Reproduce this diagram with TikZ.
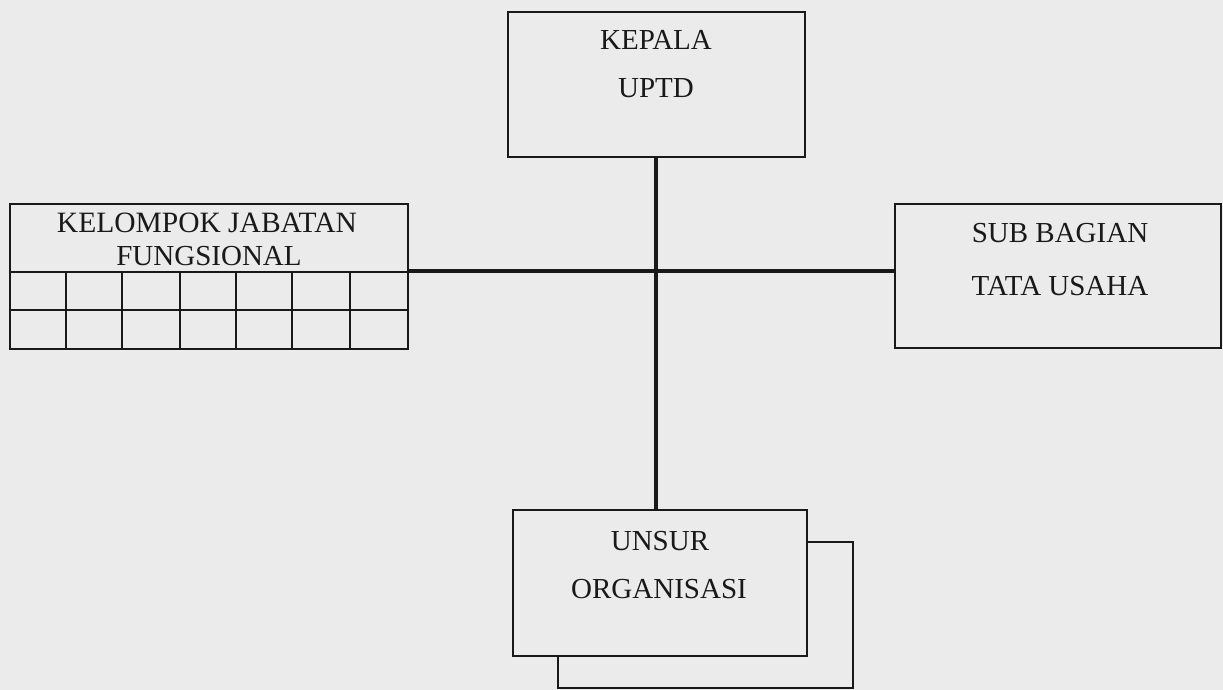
\documentclass[tikz,border=0pt]{standalone}
\usepackage{fontspec}
\setmainfont{Liberation Serif}
\definecolor{bg}{RGB}{235,235,235}
\definecolor{ink}{RGB}{25,25,25}
\begin{document}
\begin{tikzpicture}[x=1pt,y=-1pt,
  box/.style={draw=ink,line width=2.2pt,inner sep=0pt,fill=bg},
  lbl/.style={font=\fontsize{29}{35}\selectfont,text=ink,inner sep=0pt,anchor=base},
  conn/.style={draw=ink,line width=3.2pt},
  gridline/.style={draw=ink,line width=1.4pt}]
\fill[bg] (0,0) rectangle (1223,690);
\useasboundingbox (0,0) rectangle (1223,690);

% boxes
\node[box,minimum width=297pt,minimum height=145pt] (kepala) at (656.5,84.5) {};
\node[box,minimum width=398pt,minimum height=145pt] (kel) at (209,276.5) {};
\node[box,minimum width=326pt,minimum height=144pt] (sub) at (1058,276) {};
\node[box,minimum width=295pt,minimum height=146pt] (unsurback) at (705.5,615) {};
\node[box,minimum width=294pt,minimum height=146pt] (unsur) at (660,583) {};

% grid of the functional group box
\draw[gridline,line width=2pt] (10,272) -- (408,272);
\draw[gridline,line width=1.1pt] (10,310) -- (408,310);
\foreach \gx in {66,122,180,236,292,350}{
  \draw[gridline] (\gx,272) -- (\gx,349);
}

% labels
\node[lbl] (t1) at (656,50) {KEPALA};
\node[lbl] (t2) at (656,98) {UPTD};
\node[lbl,font=\fontsize{29.5}{34}\selectfont] (t3) at (207,232) {KELOMPOK JABATAN};
\node[lbl,font=\fontsize{29}{34}\selectfont] (t4) at (209,265) {FUNGSIONAL};
\node[lbl] (t5) at (1060,242) {SUB BAGIAN};
\node[lbl] (t6) at (1060,295) {TATA USAHA};
\node[lbl] (t7) at (660,550) {UNSUR};
\node[lbl] (t8) at (659,598) {ORGANISASI};

% connectors
\coordinate (hub) at (656,271);
\draw[conn] (kepala.south -| hub) -- (unsur.north -| hub);
\draw[conn] (kel.east |- hub) -- (sub.west |- hub);
\end{tikzpicture}
\end{document}
